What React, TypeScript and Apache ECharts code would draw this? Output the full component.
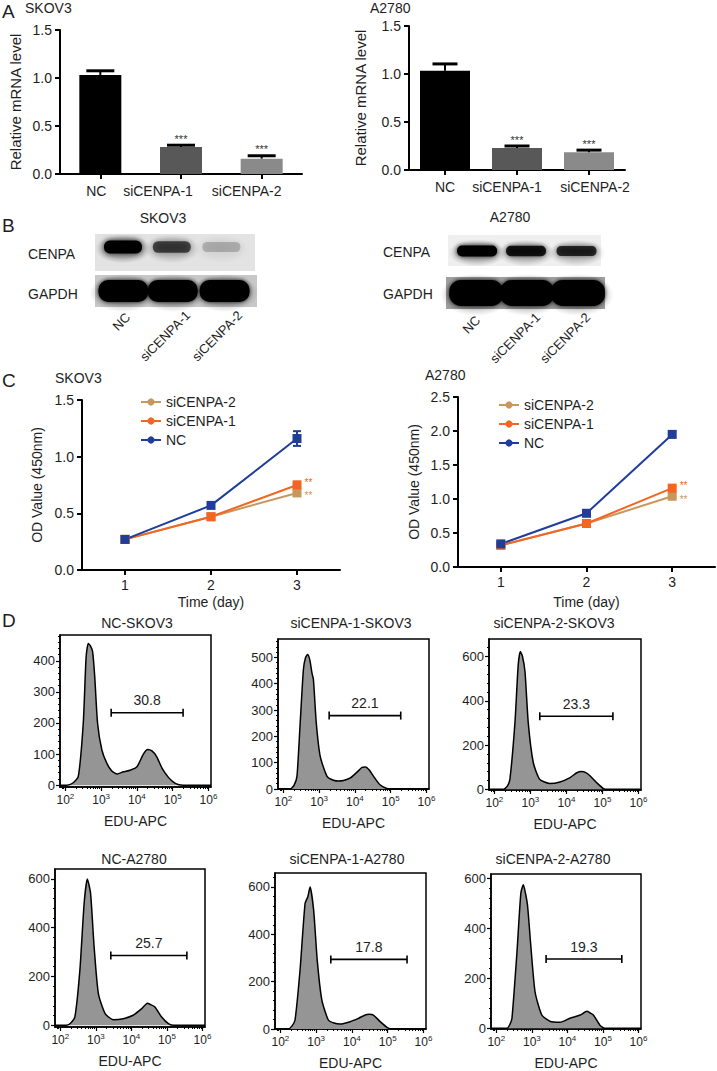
import React, { useEffect, useRef } from 'react';
import * as echarts from 'echarts';

const FONT = '"Liberation Sans", Arial, Helvetica, sans-serif';
const TXT = '#1e1e1e';

/* ---------------- Panel A : relative mRNA level ---------------- */
const barCats = ['NC', 'siCENPA-1', 'siCENPA-2'];
const mrnaSKOV3 = [1.03, 0.28, 0.16];
const mrnaSKOV3Err = [0.045, 0.02, 0.03];
const mrnaA2780 = [1.035, 0.23, 0.185];
const mrnaA2780Err = [0.07, 0.02, 0.022];
const mrnaSig = ['', '***', '***'];
const barColors = ['#000000', '#585858', '#8a8a8a'];

/* ---------------- Panel B : western blot relative band intensity ---------------- */
const blotLanes = ['NC', 'siCENPA-1', 'siCENPA-2'];
const cenpaSKOV3 = [1.0, 0.62, 0.2];
const gapdhSKOV3 = [1.0, 1.0, 1.0];
const cenpaA2780 = [1.0, 0.85, 0.75];
const gapdhA2780 = [1.0, 1.0, 1.0];

/* ---------------- Panel C : OD value (450nm) ---------------- */
const days = ['1', '2', '3'];
const odSKOV3_NC = [0.27, 0.57, 1.16];
const odSKOV3_si1 = [0.27, 0.47, 0.75];
const odSKOV3_si2 = [0.27, 0.47, 0.68];
const odSKOV3_NCErr = [0.01, 0.02, 0.065];
const odSKOV3_si1Err = [0.01, 0.015, 0.03];
const odSKOV3_si2Err = [0.01, 0.015, 0.02];
const odA2780_NC = [0.34, 0.79, 1.95];
const odA2780_si1 = [0.32, 0.64, 1.16];
const odA2780_si2 = [0.32, 0.64, 1.04];
const odA2780_NCErr = [0.02, 0.03, 0.04];
const odA2780_si1Err = [0.02, 0.03, 0.03];
const odA2780_si2Err = [0.02, 0.02, 0.02];
const odSig = ['**', '**'];

/* ---------------- Panel D : EdU flow histograms (x = log10 EDU-APC, y = count) ---------------- */
const flowTitles = ['NC-SKOV3', 'siCENPA-1-SKOV3', 'siCENPA-2-SKOV3', 'NC-A2780', 'siCENPA-1-A2780', 'siCENPA-2-A2780'];
const flowPct = ['30.8', '22.1', '23.3', '25.7', '17.8', '19.3'];
const flowGateLo = [3.28, 3.28, 3.26, 3.42, 3.41, 3.40];
const flowGateHi = [5.29, 5.28, 5.29, 5.56, 5.54, 5.53];
const flowGateY = [233, 279, 330, 286, 294, 277];
const flowYMin = [-6, 0, -3, -7, 0, -3];
const flowYMax = [483, 570, 679, 640, 659, 617];
const flowYTicks = [
  [0, 100, 200, 300, 400],
  [0, 100, 200, 300, 400, 500],
  [0, 200, 400, 600],
  [0, 200, 400, 600],
  [0, 200, 400, 600],
  [0, 200, 400, 600],
];
const flowXTicks = [2, 3, 4, 5, 6];
const flowXMin = 1.85;
const flowXMax = 6.07;

const histNC_SKOV3 = [[1.85, 0], [2.04, 0], [2.2, 6], [2.36, 27], [2.5, 199], [2.58, 413], [2.64, 456], [2.7, 448], [2.76, 430], [2.82, 350], [2.9, 199], [3.02, 113], [3.16, 70], [3.3, 45], [3.45, 36], [3.62, 43], [3.81, 48], [4.0, 59], [4.18, 100], [4.3, 115], [4.42, 110], [4.55, 92], [4.7, 55], [4.88, 25], [5.02, 10], [5.15, 2], [5.3, 0], [6.07, 0]];
const histSi1_SKOV3 = [[1.85, 0], [2.19, 0], [2.3, 15], [2.38, 48], [2.47, 251], [2.56, 454], [2.62, 500], [2.68, 511], [2.74, 490], [2.8, 440], [2.84, 416], [2.92, 251], [3.03, 124], [3.22, 48], [3.4, 33], [3.55, 30], [3.68, 32], [3.87, 42], [4.05, 63], [4.2, 82], [4.3, 84], [4.4, 72], [4.52, 48], [4.7, 16], [4.89, 2], [5.0, 0], [6.07, 0]];
const histSi2_SKOV3 = [[1.85, 0], [2.24, 0], [2.35, 12], [2.43, 45], [2.57, 300], [2.66, 560], [2.72, 623], [2.78, 600], [2.85, 530], [2.94, 300], [3.08, 120], [3.26, 45], [3.54, 26], [3.82, 33], [4.1, 53], [4.29, 75], [4.42, 80], [4.55, 74], [4.66, 60], [4.84, 30], [5.03, 3], [5.15, 0], [6.07, 0]];
const histNC_A2780 = [[1.85, 0], [2.18, 0], [2.3, 10], [2.41, 34], [2.55, 226], [2.67, 500], [2.76, 599], [2.85, 541], [2.95, 322], [3.07, 130], [3.26, 48], [3.49, 23], [3.77, 27], [4.05, 41], [4.29, 68], [4.45, 90], [4.52, 86], [4.66, 75], [4.85, 34], [5.04, 7], [5.2, 0], [6.07, 0]];
const histSi1_A2780 = [[1.85, 0], [2.22, 0], [2.32, 12], [2.41, 38], [2.55, 249], [2.69, 530], [2.77, 560], [2.83, 600], [2.93, 502], [3.03, 291], [3.16, 122], [3.34, 38], [3.5, 25], [3.67, 21], [3.95, 31], [4.18, 45], [4.37, 59], [4.48, 62], [4.6, 59], [4.79, 31], [4.98, 7], [5.1, 0], [6.07, 0]];
const histSi2_A2780 = [[1.85, 0], [2.3, 0], [2.38, 15], [2.44, 40], [2.58, 303], [2.69, 541], [2.76, 574], [2.82, 540], [2.88, 488], [2.97, 330], [3.09, 145], [3.28, 53], [3.52, 27], [3.79, 24], [4.07, 40], [4.36, 53], [4.55, 68], [4.63, 62], [4.73, 53], [4.92, 11], [5.05, 0], [6.07, 0]];
const flowHists = [histNC_SKOV3, histSi1_SKOV3, histSi2_SKOV3, histNC_A2780, histSi1_A2780, histSi2_A2780];

/* ---------------- layout ---------------- */
const COL_NC = '#1f3d99';
const COL_SI1 = '#f26522';
const COL_SI2 = '#c9975c';

const flowGrid = [
  { left: 60, top: 635, width: 151, height: 152 },
  { left: 278, top: 639, width: 151, height: 150 },
  { left: 489, top: 639, width: 152, height: 151 },
  { left: 55, top: 869, width: 150, height: 158 },
  { left: 275, top: 873, width: 151, height: 156 },
  { left: 491, top: 874, width: 150, height: 157 },
];
const flowTitlePos = [[137, 623], [351, 623], [554, 623], [134, 859], [347, 859], [553, 859]];

function txt(text: string, x: number, y: number, size = 14, align = 'left', rot = 0) {
  return {
    type: 'text', x, y, rotation: rot, silent: true,
    style: { text, fontSize: size, fontFamily: FONT, fill: TXT, textAlign: align, textVerticalAlign: 'middle' },
  };
}

function halo(cx: number, cy: number, rx: number, ry: number, alpha: number) {
  return {
    type: 'ellipse', silent: true,
    shape: { cx, cy, rx, ry },
    style: {
      fill: new echarts.graphic.RadialGradient(0.5, 0.5, 0.5, [
        { offset: 0, color: `rgba(0,0,0,${alpha})` },
        { offset: 0.6, color: `rgba(0,0,0,${alpha * 0.6})` },
        { offset: 1, color: 'rgba(0,0,0,0)' },
      ]),
    },
  };
}

function blot(x: number, y: number, w: number, h: number, bg: string, laneFrac: number[], vals: number[],
  cyOff: number, hw: number, hh: number, blur: number) {
  const els: any[] = [{ type: 'rect', silent: true, shape: { x, y, width: w, height: h }, style: { fill: bg } }];
  vals.forEach((v, i) => {
    const cx = x + w * laneFrac[i];
    els.push(halo(cx, y + cyOff + 2, hw + 9, hh + 8, 0.35 * v));
  });
  vals.forEach((v, i) => {
    const cx = x + w * laneFrac[i];
    const bh = hh * (0.7 + 0.3 * v);
    els.push({
      type: 'rect', silent: true,
      shape: { x: cx - hw, y: y + cyOff - bh, width: hw * 2, height: bh * 2, r: bh * 0.9 },
      style: { fill: `rgba(0,0,0,${Math.min(1, v)})`, shadowBlur: blur, shadowColor: `rgba(0,0,0,${0.9 * v})` },
    });
  });
  return els;
}

function buildOption() {
  const grid: any[] = [];
  const xAxis: any[] = [];
  const yAxis: any[] = [];
  const series: any[] = [];
  const legend: any[] = [];
  const axisLine2 = { show: true, onZero: false, lineStyle: { color: '#000', width: 2 } };
  const tick2 = { show: true, length: 5, lineStyle: { color: '#000', width: 2 } };

  /* ---- A ---- */
  const aPanels = [
    { vals: mrnaSKOV3, errs: mrnaSKOV3Err, g: { left: 60, top: 30, width: 242, height: 144 }, barW: 42, cap: 28, nameGap: 37, shift: [-4, -23, -15] },
    { vals: mrnaA2780, errs: mrnaA2780Err, g: { left: 409, top: 26, width: 216, height: 144 }, barW: 50, cap: 25, nameGap: 41, shift: [0, -10, 6] },
  ];
  aPanels.forEach((pn) => {
    const gi = grid.length;
    grid.push(pn.g);
    const xi = xAxis.length;
    const rich: any = {};
    pn.shift.forEach((s, i) => {
      rich['c' + i] = {
        fontSize: 14, color: TXT, fontFamily: FONT,
        padding: s < 0 ? [0, -2 * s, 0, 0] : [0, 0, 0, 2 * s],
      };
    });
    xAxis.push({
      gridIndex: gi, type: 'category', data: barCats,
      axisLine: axisLine2, axisTick: { ...tick2, alignWithLabel: true },
      axisLabel: { interval: 0, margin: 10, formatter: (v: string, i: number) => `{c${i}|${v}}`, rich },
    });
    const yi = yAxis.length;
    yAxis.push({
      gridIndex: gi, type: 'value', min: 0, max: 1.5, interval: 0.5,
      name: 'Relative mRNA level', nameLocation: 'middle', nameGap: pn.nameGap,
      nameTextStyle: { fontSize: 15, color: TXT },
      axisLine: axisLine2, axisTick: tick2,
      axisLabel: { fontSize: 14, color: TXT, margin: 8, formatter: (v: number) => v.toFixed(1) },
      splitLine: { show: false },
    });
    series.push({
      type: 'bar', xAxisIndex: xi, yAxisIndex: yi, barWidth: pn.barW, silent: true,
      data: pn.vals.map((v, i) => ({ value: v, itemStyle: { color: barColors[i] } })),
    });
    series.push({
      type: 'custom', xAxisIndex: xi, yAxisIndex: yi, z: 5, silent: true,
      data: pn.vals.map((v, i) => [i, v, pn.errs[i]]),
      renderItem: (p: any, api: any) => {
        const i = api.value(0), v = api.value(1), e = api.value(2);
        const b = api.coord([i, v]);
        const t = api.coord([i, v + e]);
        return {
          type: 'group',
          children: [
            { type: 'line', shape: { x1: b[0], y1: b[1], x2: t[0], y2: t[1] }, style: { stroke: '#000', lineWidth: 2 } },
            { type: 'line', shape: { x1: t[0] - pn.cap / 2, y1: t[1], x2: t[0] + pn.cap / 2, y2: t[1] }, style: { stroke: '#000', lineWidth: 3 } },
            { type: 'text', x: t[0], y: t[1] - 1, style: { text: mrnaSig[p.dataIndex], textAlign: 'center', textVerticalAlign: 'bottom', fontSize: 11, fontFamily: FONT, fill: '#333' } },
          ],
        };
      },
    });
  });

  /* ---- C ---- */
  const cPanels = [
    {
      g: { left: 82, top: 400, width: 258, height: 170 }, max: 1.5, nameGap: 38, xNameGap: 25,
      lg: { left: 140, top: 395 },
      lines: [
        { name: 'siCENPA-2', vals: odSKOV3_si2, errs: odSKOV3_si2Err, color: COL_SI2, sig: odSig[1], dy: 3 },
        { name: 'siCENPA-1', vals: odSKOV3_si1, errs: odSKOV3_si1Err, color: COL_SI1, sig: odSig[0], dy: -3 },
        { name: 'NC', vals: odSKOV3_NC, errs: odSKOV3_NCErr, color: COL_NC, sig: '', dy: 0 },
      ],
    },
    {
      g: { left: 458, top: 397, width: 257, height: 170 }, max: 2.5, nameGap: 37, xNameGap: 28,
      lg: { left: 498, top: 398 },
      lines: [
        { name: 'siCENPA-2', vals: odA2780_si2, errs: odA2780_si2Err, color: COL_SI2, sig: odSig[1], dy: 3 },
        { name: 'siCENPA-1', vals: odA2780_si1, errs: odA2780_si1Err, color: COL_SI1, sig: odSig[0], dy: -3 },
        { name: 'NC', vals: odA2780_NC, errs: odA2780_NCErr, color: COL_NC, sig: '', dy: 0 },
      ],
    },
  ];
  cPanels.forEach((pn) => {
    const gi = grid.length;
    grid.push(pn.g);
    const xi = xAxis.length;
    xAxis.push({
      gridIndex: gi, type: 'category', data: days, boundaryGap: true,
      name: 'Time (day)', nameLocation: 'middle', nameGap: pn.xNameGap,
      nameTextStyle: { fontSize: 14, color: TXT },
      axisLine: axisLine2, axisTick: { ...tick2, alignWithLabel: true },
      axisLabel: { interval: 0, fontSize: 14, color: TXT, margin: 8 },
    });
    const yi = yAxis.length;
    yAxis.push({
      gridIndex: gi, type: 'value', min: 0, max: pn.max, interval: 0.5,
      name: 'OD Value (450nm)', nameLocation: 'middle', nameGap: pn.nameGap,
      nameTextStyle: { fontSize: 14, color: TXT },
      axisLine: axisLine2, axisTick: tick2,
      axisLabel: { fontSize: 14, color: TXT, margin: 8, formatter: (v: number) => v.toFixed(1) },
      splitLine: { show: false },
    });
    pn.lines.forEach((ln) => {
      series.push({
        type: 'custom', xAxisIndex: xi, yAxisIndex: yi, z: 2, silent: true,
        data: ln.vals.map((v, i) => [i, v, ln.errs[i]]),
        renderItem: (_p: any, api: any) => {
          const i = api.value(0), v = api.value(1), e = api.value(2);
          const lo = api.coord([i, v - e]);
          const hi = api.coord([i, v + e]);
          const st = { stroke: ln.color, lineWidth: 2 };
          return {
            type: 'group',
            children: [
              { type: 'line', shape: { x1: lo[0], y1: lo[1], x2: hi[0], y2: hi[1] }, style: st },
              { type: 'line', shape: { x1: lo[0] - 4, y1: lo[1], x2: lo[0] + 4, y2: lo[1] }, style: st },
              { type: 'line', shape: { x1: hi[0] - 4, y1: hi[1], x2: hi[0] + 4, y2: hi[1] }, style: st },
            ],
          };
        },
      });
    });
    pn.lines.forEach((ln) => {
      series.push({
        type: 'line', name: ln.name, xAxisIndex: xi, yAxisIndex: yi, z: 3,
        symbol: 'circle', symbolSize: 9, showAllSymbol: true,
        lineStyle: { color: ln.color, width: 2 }, itemStyle: { color: ln.color },
        data: ln.vals.map((v, i) => ({
          value: v, symbol: 'rect',
          label: i === ln.vals.length - 1 && ln.sig
            ? { show: true, position: 'right', distance: 3, offset: [0, ln.dy], formatter: ln.sig, color: ln.color, fontSize: 10, lineHeight: 9, fontFamily: FONT }
            : { show: false },
        })),
      });
    });
    legend.push({
      orient: 'vertical', left: pn.lg.left, top: pn.lg.top, padding: 0,
      itemWidth: 20, itemHeight: 9, itemGap: 5,
      textStyle: { fontSize: 14, color: TXT, fontFamily: FONT },
      data: ['siCENPA-2', 'siCENPA-1', 'NC'],
      selectedMode: false,
    });
  });

  /* ---- D ---- */
  const minorX: number[] = [];
  for (let d = 1; d <= 6; d++) {
    for (let k = 2; k <= 9; k++) {
      const v = d + Math.log10(k);
      if (v > flowXMin && v < flowXMax) minorX.push(+v.toFixed(4));
    }
  }
  flowHists.forEach((hist, fi) => {
    const gi = grid.length;
    grid.push({ ...flowGrid[fi], show: true, borderColor: '#000', borderWidth: 1.5, backgroundColor: 'transparent' });
    const lineD = { show: true, onZero: false, lineStyle: { color: '#000', width: 1.5 } };
    const xi = xAxis.length;
    xAxis.push({
      gridIndex: gi, type: 'value', position: 'bottom', min: flowXMin, max: flowXMax,
      name: 'EDU-APC', nameLocation: 'middle', nameGap: 27, nameTextStyle: { fontSize: 14, color: TXT },
      axisLine: lineD,
      axisTick: { show: true, customValues: flowXTicks, length: 4, lineStyle: { color: '#000', width: 1.2 } },
      axisLabel: {
        customValues: flowXTicks, margin: 5,
        formatter: (v: number) => `{b|10}{s|${Math.round(v)}}`,
        rich: {
          b: { fontSize: 12, color: TXT, fontFamily: FONT, lineHeight: 16 },
          s: { fontSize: 8, color: TXT, fontFamily: FONT, verticalAlign: 'top' },
        },
      },
      splitLine: { show: false },
    });
    xAxis.push({
      gridIndex: gi, type: 'value', position: 'bottom', min: flowXMin, max: flowXMax,
      axisLine: { show: false, onZero: false },
      axisTick: { show: true, customValues: minorX, length: 2, lineStyle: { color: '#000', width: 1 } },
      axisLabel: { show: false }, splitLine: { show: false },
    });
    const yi = yAxis.length;
    const yt = flowYTicks[fi];
    const step = (yt[1] - yt[0]) / 5;
    const minorY: number[] = [];
    for (let v = step; v < flowYMax[fi]; v += step) if (yt.indexOf(Math.round(v)) < 0) minorY.push(Math.round(v));
    yAxis.push({
      gridIndex: gi, type: 'value', position: 'left', min: flowYMin[fi], max: flowYMax[fi],
      axisLine: lineD,
      axisTick: { show: true, customValues: yt, length: 4, lineStyle: { color: '#000', width: 1.2 } },
      axisLabel: { customValues: yt, fontSize: 13, color: TXT, margin: 5 },
      splitLine: { show: false },
    });
    yAxis.push({
      gridIndex: gi, type: 'value', position: 'left', min: flowYMin[fi], max: flowYMax[fi],
      axisLine: { show: false, onZero: false },
      axisTick: { show: true, customValues: minorY, length: 2, lineStyle: { color: '#000', width: 1 } },
      axisLabel: { show: false }, splitLine: { show: false },
    });
    series.push({
      type: 'line', xAxisIndex: xi, yAxisIndex: yi, silent: true,
      data: hist, smooth: 0.2, symbol: 'none',
      lineStyle: { color: '#000', width: 1.5 },
      areaStyle: { color: '#959595', opacity: 1 },
    });
    series.push({
      type: 'scatter', xAxisIndex: xi, yAxisIndex: yi, silent: true,
      data: [[(flowGateLo[fi] + flowGateHi[fi]) / 2, flowGateY[fi]]],
      symbol: 'circle', symbolSize: 1, itemStyle: { color: '#000' },
      label: { show: true, position: 'top', distance: 5, formatter: flowPct[fi], fontSize: 14, color: TXT, fontFamily: FONT, opacity: 1 },
    });
    series.push({
      type: 'line', xAxisIndex: xi, yAxisIndex: yi, silent: true,
      data: [[flowGateLo[fi], flowGateY[fi]], [flowGateHi[fi], flowGateY[fi]]],
      symbol: 'rect', symbolSize: [1.6, 8], itemStyle: { color: '#000' },
      lineStyle: { color: '#000', width: 1.6 },
    });
  });

  /* ---- graphic: letters, titles, blots ---- */
  const g: any[] = [];
  g.push(txt('A', 2, 11, 19));
  g.push(txt('SKOV3', 25, 8, 14));
  g.push(txt('A2780', 370, 8, 14));
  g.push(txt('B', 2, 225, 19));
  g.push(txt('C', 2, 380, 19));
  g.push(txt('SKOV3', 55, 378, 14));
  g.push(txt('A2780', 425, 375, 14));
  g.push(txt('D', 2, 620, 19));
  flowTitles.forEach((t, i) => g.push(txt(t, flowTitlePos[i][0], flowTitlePos[i][1], 14, 'center')));

  // blots
  g.push(txt('SKOV3', 163, 218, 14, 'center'));
  g.push(txt('A2780', 510, 217, 14, 'center'));
  g.push(txt('CENPA', 28, 254, 14));
  g.push(txt('GAPDH', 28, 294, 14));
  g.push(txt('CENPA', 383, 252, 14));
  g.push(txt('GAPDH', 383, 294, 14));
  g.push({ type: 'group', clipPath: undefined, children: blot(95, 234, 160, 37, '#e3e3e3', [0.175, 0.48, 0.79], cenpaSKOV3, 13, 19, 6.5, 6) });
  g.push({ type: 'group', children: blot(95, 275, 162, 32, '#c8c8c8', [0.175, 0.48, 0.8], gapdhSKOV3, 16, 25, 11, 4) });
  g.push({ type: 'group', children: blot(448, 235, 153, 31, '#efefef', [0.19, 0.51, 0.84], cenpaA2780, 16, 20, 5.5, 5) });
  g.push({ type: 'group', children: blot(446, 277, 159, 32, '#a0a0a0', [0.19, 0.51, 0.83], gapdhA2780, 16, 27, 13, 4) });
  const labAnchorsL = [[128, 315], [188, 313], [240, 313]];
  const labAnchorsR = [[478, 318], [538, 315], [588, 315]];
  blotLanes.forEach((l, i) => {
    g.push(txt(l, labAnchorsL[i][0], labAnchorsL[i][1], 13, 'right', Math.PI / 4));
    g.push(txt(l, labAnchorsR[i][0], labAnchorsR[i][1], 13, 'right', Math.PI / 4));
  });

  return {
    animation: false,
    backgroundColor: '#ffffff',
    textStyle: { fontFamily: FONT },
    grid, xAxis, yAxis, series, legend,
    graphic: { elements: g },
  };
}

export default function App() {
  const ref = useRef<HTMLDivElement>(null);
  useEffect(() => {
    if (!ref.current) return;
    const chart = echarts.init(ref.current, undefined, { renderer: 'svg' });
    chart.setOption(buildOption() as any);
    return () => chart.dispose();
  }, []);
  return <div ref={ref} style={{ position: 'absolute', left: 0, top: 0, width: 717, height: 1071, background: '#fff' }} />;
}
